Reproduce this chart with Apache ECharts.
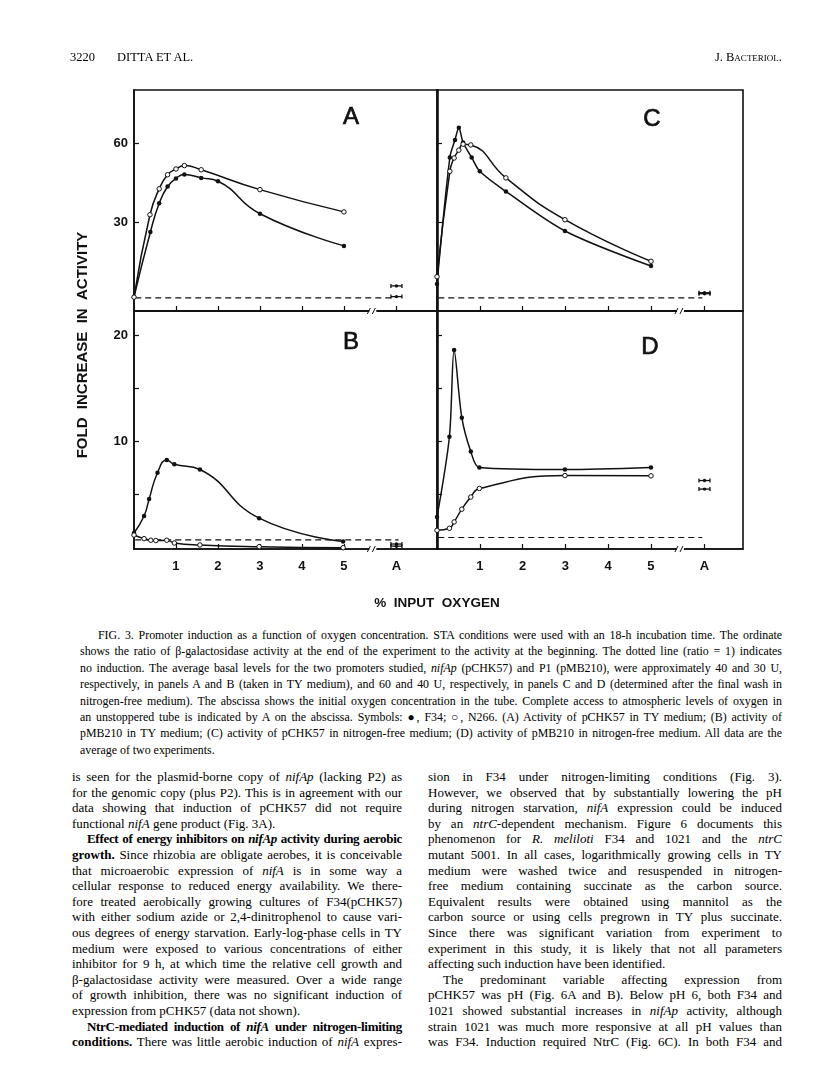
<!DOCTYPE html>
<html>
<head>
<meta charset="utf-8">
<script src="https://cdn.jsdelivr.net/npm/echarts@6/dist/echarts.min.js"></script>
<style>
body { margin: 0; background: #fff; }
#page { position: relative; width: 816px; height: 1077px; overflow: hidden; background: #fff;
  font-family: 'Liberation Serif', 'Times New Roman', serif; color: #000; }
#chartDiv { position: absolute; left: 0; top: 0; width: 816px; height: 625px; }
.hdr { position: absolute; top: 50px; font-size: 12.5px; white-space: nowrap; }
.cap { position: absolute; left: 80px; top: 627px; width: 702px; font-size: 11.9px; line-height: 16.4px; }
.col { position: absolute; top: 769px; width: 330px; font-size: 13px; line-height: 15.6px; }
.ln { text-align: justify; text-align-last: justify; white-space: nowrap; }
.end { text-align: left; text-align-last: left; white-space: nowrap; }
.ind { text-indent: 15px; }
.cap .ind { text-indent: 18px; }
.tight { letter-spacing: -0.3px; }
</style>
</head>
<body>
<div id="page">
  <div id="chartDiv"></div>

  <div class="hdr" style="left:70px;">3220</div>
  <div class="hdr" style="left:117px;">DITTA ET AL.</div>
  <div class="hdr" style="right:34px; font-variant: small-caps;">J. Bacteriol.</div>

  <div class="cap">
    <div class="ln ind">FIG. 3. Promoter induction as a function of oxygen concentration. STA conditions were used with an 18-h incubation time. The ordinate</div>
    <div class="ln">shows the ratio of β-galactosidase activity at the end of the experiment to the activity at the beginning. The dotted line (ratio = 1) indicates</div>
    <div class="ln">no induction. The average basal levels for the two promoters studied, <i>nifAp</i> (pCHK57) and P1 (pMB210), were approximately 40 and 30 U,</div>
    <div class="ln">respectively, in panels A and B (taken in TY medium), and 60 and 40 U, respectively, in panels C and D (determined after the final wash in</div>
    <div class="ln">nitrogen-free medium). The abscissa shows the initial oxygen concentration in the tube. Complete access to atmospheric levels of oxygen in</div>
    <div class="ln">an unstoppered tube is indicated by A on the abscissa. Symbols: ●, F34; ○, N266. (A) Activity of pCHK57 in TY medium; (B) activity of</div>
    <div class="ln">pMB210 in TY medium; (C) activity of pCHK57 in nitrogen-free medium; (D) activity of pMB210 in nitrogen-free medium. All data are the</div>
    <div class="end">average of two experiments.</div>
  </div>

  <div class="col" style="left:72px;">
    <div class="ln">is seen for the plasmid-borne copy of <i>nifAp</i> (lacking P2) as</div>
    <div class="ln">for the genomic copy (plus P2). This is in agreement with our</div>
    <div class="ln">data showing that induction of pCHK57 did not require</div>
    <div class="end">functional <i>nifA</i> gene product (Fig. 3A).</div>
    <div class="ln ind tight"><b>Effect of energy inhibitors on <i>nifAp</i> activity during aerobic</b></div>
    <div class="ln"><b>growth.</b> Since rhizobia are obligate aerobes, it is conceivable</div>
    <div class="ln">that microaerobic expression of <i>nifA</i> is in some way a</div>
    <div class="ln">cellular response to reduced energy availability. We there-</div>
    <div class="ln">fore treated aerobically growing cultures of F34(pCHK57)</div>
    <div class="ln">with either sodium azide or 2,4-dinitrophenol to cause vari-</div>
    <div class="ln">ous degrees of energy starvation. Early-log-phase cells in TY</div>
    <div class="ln">medium were exposed to various concentrations of either</div>
    <div class="ln">inhibitor for 9 h, at which time the relative cell growth and</div>
    <div class="ln">β-galactosidase activity were measured. Over a wide range</div>
    <div class="ln">of growth inhibition, there was no significant induction of</div>
    <div class="end">expression from pCHK57 (data not shown).</div>
    <div class="ln ind tight"><b>NtrC-mediated induction of <i>nifA</i> under nitrogen-limiting</b></div>
    <div class="ln"><b>conditions.</b> There was little aerobic induction of <i>nifA</i> expres-</div>
  </div>

  <div class="col" style="left:428px; width:354px;">
    <div class="ln">sion in F34 under nitrogen-limiting conditions (Fig. 3).</div>
    <div class="ln">However, we observed that by substantially lowering the pH</div>
    <div class="ln">during nitrogen starvation, <i>nifA</i> expression could be induced</div>
    <div class="ln">by an <i>ntrC</i>-dependent mechanism. Figure 6 documents this</div>
    <div class="ln">phenomenon for <i>R. meliloti</i> F34 and 1021 and the <i>ntrC</i></div>
    <div class="ln">mutant 5001. In all cases, logarithmically growing cells in TY</div>
    <div class="ln">medium were washed twice and resuspended in nitrogen-</div>
    <div class="ln">free medium containing succinate as the carbon source.</div>
    <div class="ln">Equivalent results were obtained using mannitol as the</div>
    <div class="ln">carbon source or using cells pregrown in TY plus succinate.</div>
    <div class="ln">Since there was significant variation from experiment to</div>
    <div class="ln">experiment in this study, it is likely that not all parameters</div>
    <div class="end">affecting such induction have been identified.</div>
    <div class="ln ind">The predominant variable affecting expression from</div>
    <div class="ln">pCHK57 was pH (Fig. 6A and B). Below pH 6, both F34 and</div>
    <div class="ln">1021 showed substantial increases in <i>nifAp</i> activity, although</div>
    <div class="ln">strain 1021 was much more responsive at all pH values than</div>
    <div class="ln">was F34. Induction required NtrC (Fig. 6C). In both F34 and</div>
  </div>
</div>

<script>
// 数据 (fold increase vs % input oxygen); x = 6.25 is the "A" (air) position
const xTickValues = [1, 2, 3, 4, 5, 6.25];
const xTickLabels = ['1', '2', '3', '4', '5', 'A'];

// panel A: pCHK57 in TY medium
const a_F34  = [[0, 1.3], [0.39, 26.2], [0.6, 37.2], [0.8, 43.6], [1.0, 46.7], [1.2, 48.2], [1.6, 46.9], [2.0, 45.6], [3.0, 33.2], [5.0, 20.9]];
const a_N266 = [[0, 1.3], [0.38, 32.8], [0.6, 42.7], [0.8, 48.1], [1.0, 50.3], [1.2, 51.6], [1.6, 50.0], [3.0, 42.4], [5.0, 33.9]];
const a_air  = [[6.25, 5.6], [6.25, 1.5]];
const a_none = 1;

// panel B: pMB210 in TY medium
const b_F34  = [[0, 1.3], [0.24, 2.9], [0.36, 4.5], [0.56, 7.0], [0.78, 8.2], [0.96, 7.8], [1.57, 7.3], [2.98, 2.7], [4.98, 0.5]];
const b_N266 = [[0, 1.1], [0.24, 0.76], [0.4, 0.61], [0.52, 0.58], [0.78, 0.61], [0.96, 0.35], [1.57, 0.16], [2.98, 0.0], [4.98, -0.1]];
const b_air  = [[6.25, 0.25], [6.25, 0.05]];
const b_none = 0.65;

// panel C: pCHK57 in nitrogen-free medium
const c_F34  = [[0, 6.3], [0.3, 54.7], [0.42, 61.4], [0.51, 66.1], [0.61, 60.4], [0.81, 54.7], [1.0, 49.4], [1.61, 41.7], [2.99, 26.6], [5.0, 13.2]];
const c_N266 = [[0, 9.1], [0.3, 49.4], [0.4, 54.5], [0.51, 57.5], [0.61, 59.8], [0.79, 59.5], [1.61, 46.9], [2.99, 30.9], [5.0, 15.0]];
const c_air  = [[6.25, 3.0], [6.25, 2.6]];
const c_none = 1;

// panel D: pMB210 in nitrogen-free medium
const d_F34  = [[0, 2.8], [0.29, 10.4], [0.4, 18.6], [0.58, 12.2], [0.79, 9.0], [0.99, 7.5], [2.99, 7.3], [5.0, 7.5]];
const d_N266 = [[0, 1.55], [0.29, 1.74], [0.4, 2.34], [0.58, 3.55], [0.79, 4.7], [0.99, 5.51], [2.99, 6.73], [5.0, 6.7]];
const d_air  = [[6.25, 6.26], [6.25, 5.45]];
const d_none = 0.87;

// 初始化图表
let myChart = echarts.init(document.getElementById('chartDiv'));

const FONT = "'Liberation Sans', Arial, sans-serif";
const INK = '#111';

// grid 0 = A, 1 = C, 2 = B, 3 = D
const panels = [
	{grid: {left: 134, top: 90, width: 304, height: 221}, xMax: 7.24, yMin: -4, yMax: 80.5,
	 yTicks: [30, 60], yLabels: [30, 60], showX: false, F34: a_F34, N266: a_N266, air: a_air, none: a_none, noneEnd: 6.2,
	 smoothF: 0.5, smoothN: 0.5, letter: 'A', lx: 351, ly: 117},
	{grid: {left: 437, top: 90, width: 306, height: 221}, xMax: 7.15, yMin: -4, yMax: 80.5,
	 yTicks: [30, 60], yLabels: [], showX: false, F34: c_F34, N266: c_N266, air: c_air, none: c_none, noneEnd: 6.2,
	 smoothF: 0.3, smoothN: 0.5, letter: 'C', lx: 652, ly: 119},
	{grid: {left: 134, top: 311, width: 304, height: 238}, xMax: 7.24, yMin: -0.22, yMax: 22.3,
	 yTicks: [5, 10, 15, 20], yLabels: [10, 20], showX: true, F34: b_F34, N266: b_N266, air: b_air, none: b_none, noneEnd: 6.3,
	 smoothF: 0.5, smoothN: 0.5, letter: 'B', lx: 351, ly: 342},
	{grid: {left: 437, top: 311, width: 306, height: 238}, xMax: 7.15, yMin: -0.22, yMax: 22.3,
	 yTicks: [5, 10, 15, 20], yLabels: [], showX: true, F34: d_F34, N266: d_N266, air: d_air, none: d_none, noneEnd: 6.2,
	 smoothF: 0.3, smoothN: 0.5, letter: 'D', lx: 650, ly: 347}
];

// error-bar marks at the "A" position
function airMark(params, api) {
	let p = api.coord([api.value(0), api.value(1)]);
	let w = 5.5;
	let st = {stroke: INK, lineWidth: 1.3};
	return {type: 'group', children: [
		{type: 'line', shape: {x1: p[0] - w, y1: p[1], x2: p[0] + w, y2: p[1]}, style: st},
		{type: 'line', shape: {x1: p[0] - w, y1: p[1] - 2, x2: p[0] - w, y2: p[1] + 2}, style: st},
		{type: 'line', shape: {x1: p[0] + w, y1: p[1] - 2, x2: p[0] + w, y2: p[1] + 2}, style: st},
		{type: 'circle', shape: {cx: p[0], cy: p[1], r: 1.7}, style: {fill: INK}}
	]};
}

// axis break "//"
function axisBreak(params, api) {
	let p = api.coord([api.value(0), api.value(1)]);
	let st = {stroke: INK, lineWidth: 1};
	return {type: 'group', children: [
		{type: 'rect', shape: {x: p[0] - 4, y: p[1] - 1.5, width: 7, height: 3}, style: {fill: '#fff'}},
		{type: 'line', shape: {x1: p[0] - 6, y1: p[1] + 3, x2: p[0] - 3, y2: p[1] - 3}, style: st},
		{type: 'line', shape: {x1: p[0] - 1, y1: p[1] + 3, x2: p[0] + 2, y2: p[1] - 3}, style: st}
	]};
}

let option = {
	backgroundColor: 'transparent',
	animation: false,
	grid: [], xAxis: [], yAxis: [], series: [],
	graphic: [
		{type: 'text', x: 83, y: 345, rotation: Math.PI / 2,
		 style: {text: 'FOLD  INCREASE  IN  ACTIVITY', font: 'bold 15px ' + FONT, fill: INK, align: 'center', verticalAlign: 'middle'}},
		{type: 'text', x: 437, y: 603,
		 style: {text: '%  INPUT  OXYGEN', font: 'bold 13.5px ' + FONT, fill: INK, align: 'center', verticalAlign: 'middle'}}
	]
};

panels.forEach(function (pn, i) {
	option.grid.push(Object.assign({show: true, borderColor: INK, borderWidth: 1.6, backgroundColor: 'transparent'}, pn.grid));
	option.xAxis.push({
		type: 'value', gridIndex: i, min: 0, max: pn.xMax,
		axisLine: {show: true, onZero: false, lineStyle: {color: INK, width: 1.6}},
		axisTick: {show: true, inside: true, length: 5, customValues: xTickValues, lineStyle: {color: INK, width: 1.2}},
		axisLabel: {show: pn.showX, customValues: xTickValues, margin: 11,
			formatter: function (v) { return xTickLabels[xTickValues.indexOf(v)]; },
			fontFamily: FONT, fontWeight: 'bold', fontSize: 13, color: INK},
		splitLine: {show: false}
	});
	option.yAxis.push({
		type: 'value', gridIndex: i, min: pn.yMin, max: pn.yMax,
		axisLine: {show: true, onZero: false, lineStyle: {color: INK, width: 1.6}},
		axisTick: {show: true, inside: true, length: 5, customValues: pn.yTicks, lineStyle: {color: INK, width: 1.2}},
		axisLabel: {show: pn.yLabels.length > 0, customValues: pn.yLabels.length ? pn.yLabels : [0], margin: 6,
			fontFamily: FONT, fontWeight: 'bold', fontSize: 13, color: INK},
		splitLine: {show: false}
	});
	// ratio = 1 line
	option.series.push({
		type: 'line', xAxisIndex: i, yAxisIndex: i, data: [[0.03, pn.none], [pn.noneEnd, pn.none]],
		showSymbol: false, lineStyle: {color: INK, width: 1.2, type: [6, 4]}, z: 1
	});
	// F34 (filled) and N266 (open)
	option.series.push({
		name: 'F34', type: 'line', xAxisIndex: i, yAxisIndex: i, data: pn.F34, smooth: pn.smoothF,
		symbol: 'circle', symbolSize: 4.5, itemStyle: {color: INK},
		lineStyle: {color: INK, width: 1.5}, z: 3
	});
	option.series.push({
		name: 'N266', type: 'line', xAxisIndex: i, yAxisIndex: i, data: pn.N266, smooth: pn.smoothN,
		symbol: 'circle', symbolSize: 4.5, itemStyle: {color: '#fff', borderColor: INK, borderWidth: 1},
		lineStyle: {color: INK, width: 1.5}, z: 3
	});
	option.series.push({
		type: 'custom', xAxisIndex: i, yAxisIndex: i, data: pn.air, renderItem: airMark, clip: false, z: 4
	});
	option.series.push({
		type: 'custom', xAxisIndex: i, yAxisIndex: i, data: [[5.7, pn.yMin]], renderItem: axisBreak, clip: false, z: 5
	});
	option.graphic.push({type: 'text', x: pn.lx, y: pn.ly,
		style: {text: pn.letter, font: '24px ' + FONT, fill: INK, stroke: INK, lineWidth: 0.7,
			align: 'center', verticalAlign: 'middle'}});
});

myChart.setOption(option);
</script>
</body>
</html>
